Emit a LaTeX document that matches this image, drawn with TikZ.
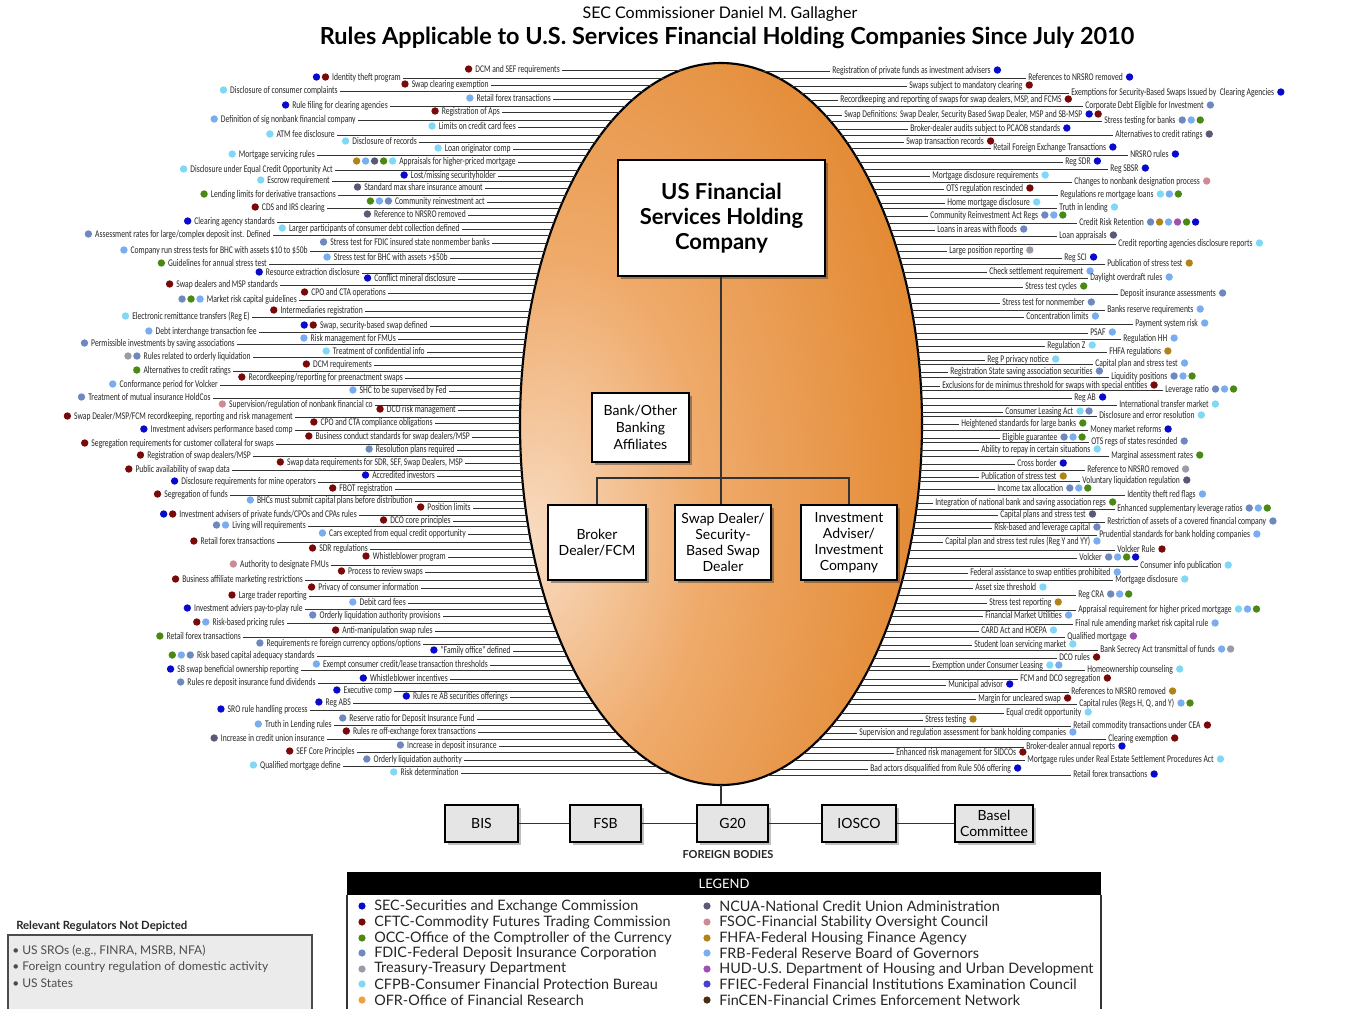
\documentclass[tikz,border=0pt]{standalone}
\usepackage{fontspec}
\setmainfont{Lato}
\newfontfamily\labf[FakeStretch=0.74]{Carlito}
\usetikzlibrary{shadows}
\definecolor{sec}{HTML}{0A0ACC}
\definecolor{cftc}{HTML}{7A0A0A}
\definecolor{occ}{HTML}{4A8A14}
\definecolor{fdic}{HTML}{7088C0}
\definecolor{treas}{HTML}{9C9CA8}
\definecolor{cfpb}{HTML}{7FD8F5}
\definecolor{ofr}{HTML}{F0A040}
\definecolor{ncua}{HTML}{5A5A78}
\definecolor{fsoc}{HTML}{D08A95}
\definecolor{fhfa}{HTML}{B08418}
\definecolor{frb}{HTML}{79ADEF}
\definecolor{hud}{HTML}{A050B0}
\definecolor{ffiec}{HTML}{4B3FD0}
\definecolor{fincen}{HTML}{4A2E10}
\definecolor{pale}{HTML}{F8DCC2}
\definecolor{midor}{HTML}{EFAA6A}
\definecolor{deepor}{HTML}{E2872F}
\pgfdeclareradialshading{eggshade}{\pgfpoint{-24bp}{-8bp}}{color(0bp)=(pale); color(18bp)=(midor); color(42bp)=(deepor); color(100bp)=(deepor)}
\newcommand\LL[5]{%
  \node[lab,anchor=base east] (#1) at (#3,#2+3.5) {#4};
  \pgfmathsetmacro\lbly{#2+1}
  \pgfmathsetmacro\lblx{721-201*sqrt(max(0,1-((\lbly-424)/361)^2))}
  \coordinate (#1e) at (\lblx,\lbly);
  \draw[leader] (#1.east |- #1e) -- (#1e);
  \foreach \c [count=\i] in {#5} {\fill[fill=\c] (#1.west |- #1e) ++({-9*\i+4.5},-1) circle[radius=3.7];}
}
\newcommand\RR[5]{%
  \node[lab,anchor=base west] (#1) at (#3,#2+3.5) {#4};
  \pgfmathsetmacro\lbly{#2+1}
  \pgfmathsetmacro\lblx{721+201*sqrt(max(0,1-((\lbly-424)/361)^2))}
  \coordinate (#1e) at (\lblx,\lbly);
  \draw[leader] (#1e) -- (#1.west |- #1e);
  \foreach \c [count=\i] in {#5} {\fill[fill=\c] (#1.east |- #1e) ++({9*\i-4.5},-1) circle[radius=3.7];}
}
\begin{document}
\begin{tikzpicture}[x=0.75pt,y=-0.75pt,
  lab/.style={font=\labf\fontsize{7.7pt}{8pt}\selectfont, text=black!85, inner sep=0pt, inner xsep=1.5pt},
  leader/.style={draw=black!80, line width=0.7pt},
  wbox/.style={draw=black, line width=1.2pt, fill=white, align=center, drop shadow={shadow xshift=2.5pt, shadow yshift=-2.5pt, fill=black!75}},
  fbox/.style={draw=black, line width=1pt, fill=black!10, align=center, font=\fontsize{10.5pt}{11pt}\selectfont, minimum height=27.75pt, inner sep=1pt, drop shadow={shadow xshift=2pt, shadow yshift=-2pt, fill=black!50}},
  conn/.style={draw=black!80, line width=1pt},
  legtxt/.style={font=\fontsize{10.8pt}{11pt}\selectfont, anchor=west, inner sep=0pt, text=black!85}
]
\path[use as bounding box, fill=white] (0,0) rectangle (1361,1008);

% titles
\node[font=\fontsize{12pt}{14pt}\selectfont] (t1) at (720,14) {SEC Commissioner Daniel M. Gallagher};
\node[font=\bfseries\fontsize{17.6pt}{20pt}\selectfont] (t2) at (727,38) {Rules Applicable to U.S. Services Financial Holding Companies Since July 2010};

% ellipse
\shade[shading=eggshade] (721,424) ellipse [x radius=201, y radius=361];
\draw[line width=1.6pt, black] (721,424) ellipse [x radius=201, y radius=361];
\coordinate (eb) at (721,785);

% left labels
\LL{l1}{69}{562}{DCM and SEF requirements}{cftc}
\LL{l2}{77}{403}{Identity theft program}{cftc,sec}
\LL{l3}{84}{491}{Swap clearing exemption}{cftc}
\LL{l4}{90}{340}{Disclosure of consumer complaints}{cfpb}
\LL{l5}{98}{553}{Retail forex transactions}{frb}
\LL{l6}{105}{390}{Rule filing for clearing agencies}{sec}
\LL{l7}{111}{502}{Registration of Aps}{cftc}
\LL{l8}{119}{358}{Definition of sig nonbank financial company}{frb}
\LL{l9}{126}{518}{Limits on credit card fees}{cfpb}
\LL{l10}{134}{337}{ATM fee disclosure}{cfpb}
\LL{l11}{141}{419}{Disclosure of records}{cfpb}
\LL{l12}{148}{513}{Loan originator comp}{cfpb}
\LL{l13}{154}{317}{Mortgage servicing rules}{cfpb}
\LL{l14}{161}{518}{Appraisals for higher-priced mortgage}{cfpb,occ,ncua,frb,fhfa}
\LL{l15}{169}{335}{Disclosure under Equal Credit Opportunity Act}{cfpb}
\LL{l16}{175}{498}{Lost/missing securityholder}{sec}
\LL{l17}{180}{332}{Escrow requirement}{cfpb}
\LL{l18}{187}{485}{Standard max share insurance amount}{ncua}
\LL{l19}{194}{338}{Lending limits for derivative transactions}{occ}
\LL{l20}{201}{487}{Community reinvestment act}{fdic,frb,occ}
\LL{l21}{207}{327}{CDS and IRS clearing}{cftc}
\LL{l22}{214}{468}{Reference to NRSRO removed}{ncua}
\LL{l23}{221}{277}{Clearing agency standards}{sec}
\LL{l24}{228}{462}{Larger participants of consumer debt collection defined}{cfpb}
\LL{l25}{234}{273}{Assessment rates for large/complex deposit inst. Defined}{fdic}
\LL{l26}{242}{492}{Stress test for FDIC insured state nonmember banks}{fdic}
\LL{l27}{250}{310}{Company run stress tests for BHC with assets \$10 to \$50b}{frb}
\LL{l28}{257}{450}{Stress test for BHC with assets >\$50b}{frb}
\LL{l29}{263}{269}{Guidelines for annual stress test}{occ}
\LL{l30}{272}{362}{Resource extraction disclosure}{sec}
\LL{l31}{278}{458}{Conflict mineral disclosure}{sec}
\LL{l32}{284}{280}{Swap dealers and MSP standards}{cftc}
\LL{l33}{292}{388}{CPO and CTA operations}{cftc}
\LL{l34}{299}{299}{Market risk capital guidelines}{frb,occ,fdic}
\LL{l35}{310}{365}{Intermediaries registration}{cftc}
\LL{l36}{316}{252}{Electronic remittance transfers (Reg E)}{cfpb}
\LL{l37}{325}{430}{Swap, security-based swap defined}{cftc,sec}
\LL{l38}{331}{259}{Debt interchange transaction fee}{frb}
\LL{l39}{338}{398}{Risk management for FMUs}{frb}
\LL{l40}{343}{237}{Permissible investments by saving associations}{fdic}
\LL{l41}{351}{427}{Treatment of confidential info}{cfpb}
\LL{l42}{356}{253}{Rules related to orderly liquidation}{fdic,treas}
\LL{l43}{364}{374}{DCM requirements}{cftc}
\LL{l44}{370}{233}{Alternatives to credit ratings}{occ}
\LL{l45}{377}{405}{Recordkeeping/reporting for preenactment swaps}{cftc}
\LL{l46}{384}{220}{Conformance period for Volcker}{frb}
\LL{l47}{390}{449}{SHC to be supervised by Fed}{frb}
\LL{l48}{397}{213}{Treatment of mutual insurance HoldCos}{fdic}
\LL{l49}{404}{375}{Supervision/regulation of nonbank financial co}{fsoc}
\LL{l50}{409}{458}{DCO risk management}{cftc}
\LL{l51}{416}{295}{Swap Dealer/MSP/FCM recordkeeping, reporting and risk management}{cftc}
\LL{l52}{422}{435}{CPO and CTA compliance obligations}{cftc}
\LL{l53}{429}{295}{Investment advisers performance based comp}{sec}
\LL{l54}{436}{472}{Business conduct standards for swap dealers/MSP}{cftc}
\LL{l55}{443}{276}{Segregation requirements for customer collateral for swaps}{cftc}
\LL{l56}{449}{457}{Resolution plans required}{fdic}
\LL{l57}{455}{253}{Registration of swap dealers/MSP}{cftc}
\LL{l58}{462}{465}{Swap data requirements for SDR, SEF, Swap Dealers, MSP}{cftc}
\LL{l59}{469}{232}{Public availability of swap data}{cftc}
\LL{l60}{475}{437}{Accredited investors}{sec}
\LL{l61}{481}{318}{Disclosure requirements for mine operators}{sec}
\LL{l62}{488}{395}{FBOT registration}{cftc}
\LL{l63}{494}{230}{Segregation of funds}{cftc}
\LL{l64}{500}{415}{BHCs must submit capital plans before distribution}{frb}
\LL{l65}{507}{473}{Position limits}{cftc}
\LL{l66}{514}{359}{Investment advisers of private funds/CPOs and CPAs rules}{cftc,sec}
\LL{l67}{520}{453}{DCO core principles}{cftc}
\LL{l68}{525}{308}{Living will requirements}{frb,fdic}
\LL{l69}{533}{468}{Cars excepted from equal credit opportunity}{frb}
\LL{l70}{541}{277}{Retail forex transactions}{cftc}
\LL{l71}{548}{370}{SDR regulations}{cftc}
\LL{l72}{556}{448}{Whistleblower program}{cftc}
\LL{l73}{564}{331}{Authority to designate FMUs}{fsoc}
\LL{l74}{571}{425}{Process to review swaps}{cftc}
\LL{l75}{579}{305}{Business affiliate marketing restrictions}{cftc}
\LL{l76}{587}{421}{Privacy of consumer information}{cftc}
\LL{l77}{595}{309}{Large trader reporting}{cftc}
\LL{l78}{602}{408}{Debit card fees}{frb}
\LL{l79}{608}{305}{Investment adviers pay-to-play rule}{sec}
\LL{l80}{615}{443}{Orderly liquidation authority provisions}{fdic}
\LL{l81}{622}{287}{Risk-based pricing rules}{frb,cftc}
\LL{l82}{630}{435}{Anti-manipulation swap rules}{cftc}
\LL{l83}{636}{243}{Retail forex transactions}{occ}
\LL{l84}{643}{423}{Requirements re foreign currency options/options}{fdic}
\LL{l85}{650}{513}{"Family office" defined}{sec}
\LL{l86}{655}{317}{Risk based capital adequacy standards}{fdic,frb,occ}
\LL{l87}{664}{490}{Exempt consumer credit/lease transaction thresholds}{frb}
\LL{l88}{669}{301}{SB swap beneficial ownership reporting}{sec}
\LL{l89}{678}{450}{Whistleblower incentives}{sec}
\LL{l90}{682}{318}{Rules re deposit insurance fund dividends}{fdic}
\LL{l91}{690}{394}{Executive comp}{sec}
\LL{l92}{696}{510}{Rules re AB securities offerings}{sec}
\LL{l93}{702}{353}{Reg ABS}{sec}
\LL{l94}{709}{310}{SRO rule handling process}{sec}
\LL{l95}{718}{477}{Reserve ratio for Deposit Insurance Fund}{fdic}
\LL{l96}{724}{334}{Truth in Lending rules}{frb}
\LL{l97}{731}{478}{Rules re off-exchange forex transactions}{cftc}
\LL{l98}{738}{327}{Increase in credit union insurance}{ncua}
\LL{l99}{745}{499}{Increase in deposit insurance}{fdic}
\LL{l100}{751}{357}{SEF Core Principles}{cftc}
\LL{l101}{759}{464}{Orderly liquidation authority}{fdic}
\LL{l102}{765}{343}{Qualified mortgage define}{cfpb}
\LL{l103}{772}{461}{Risk determination}{cfpb}

% right labels
\RR{r1}{70}{830}{Registration of private funds as investment advisers}{sec}
\RR{r2}{77}{1026}{References to NRSRO removed}{sec}
\RR{r3}{85}{907}{Swaps subject to mandatory clearing}{cftc}
\RR{r4}{92}{1069}{Exemptions for Security-Based Swaps Issued by \ Clearing Agencies}{sec}
\RR{r5}{99}{838}{Recordkeeping and reporting of swaps for swap dealers, MSP, and FCMS}{cftc}
\RR{r6}{105}{1083}{Corporate Debt Eligible for Investment}{fdic}
\RR{r7}{114}{842}{Swap Definitions: Swap Dealer, Security Based Swap Dealer, MSP and SB-MSP}{sec,cftc}
\RR{r8}{120}{1102}{Stress testing for banks}{fdic,frb,occ}
\RR{r9}{128}{908}{Broker-dealer audits subject to PCAOB standards}{sec}
\RR{r10}{134}{1113}{Alternatives to credit ratings}{ncua}
\RR{r11}{141}{904}{Swap transaction records}{cftc}
\RR{r12}{147}{991}{Retail Foreign Exchange Transactions}{sec}
\RR{r13}{154}{1128}{NRSRO rules}{sec}
\RR{r14}{161}{1063}{Reg SDR}{sec}
\RR{r15}{168}{1108}{Reg SBSR}{sec}
\RR{r16}{175}{930}{Mortgage disclosure requirements}{cfpb}
\RR{r17}{181}{1072}{Changes to nonbank designation process}{fsoc}
\RR{r18}{188}{944}{OTS regulation rescinded}{cftc}
\RR{r19}{194}{1058}{Regulations re mortgage loans}{cfpb,frb,occ}
\RR{r20}{202}{945}{Home mortgage disclosure}{cfpb}
\RR{r21}{207}{1057}{Truth in lending}{cfpb}
\RR{r22}{215}{928}{Community Reinvestment Act Regs}{fdic,frb,occ}
\RR{r23}{222}{1077}{Credit Risk Retention}{fdic,fhfa,frb,hud,occ,sec}
\RR{r24}{229}{935}{Loans in areas with floods}{fdic}
\RR{r25}{235}{1057}{Loan appraisals}{ncua}
\RR{r26}{243}{1116}{Credit reporting agencies disclosure reports}{cfpb}
\RR{r27}{250}{947}{Large position reporting}{treas}
\RR{r28}{257}{1062}{Reg SCI}{sec}
\RR{r29}{263}{1105}{Publication of stress test}{fhfa}
\RR{r30}{271}{987}{Check settlement requirement}{frb}
\RR{r31}{277}{1088}{Daylight overdraft rules}{frb}
\RR{r32}{286}{1023}{Stress test cycles}{occ}
\RR{r33}{293}{1118}{Deposit insurance assessments}{fdic}
\RR{r34}{302}{1000}{Stress test for nonmember}{fdic}
\RR{r35}{309}{1105}{Banks reserve requirements}{frb}
\RR{r36}{316}{1024}{Concentration limits}{frb}
\RR{r37}{323}{1133}{Payment system risk}{frb}
\RR{r38}{332}{1088}{PSAF}{frb}
\RR{r39}{338}{1121}{Regulation HH}{frb}
\RR{r40}{345}{1045}{Regulation Z}{cfpb}
\RR{r41}{351}{1107}{FHFA regulations}{fhfa}
\RR{r42}{359}{985}{Reg P privacy notice}{cfpb}
\RR{r43}{363}{1093}{Capital plan and stress test}{frb}
\RR{r44}{371}{948}{Registration State saving association securities}{fdic}
\RR{r45}{376}{1109}{Liquidity positions}{fdic,frb,occ}
\RR{r46}{385}{940}{Exclusions for de minimus threshold for swaps with special entities}{cftc}
\RR{r47}{389}{1163}{Leverage ratio}{fdic,frb,occ}
\RR{r48}{397}{1072}{Reg AB}{sec}
\RR{r49}{404}{1117}{International transfer market}{cfpb}
\RR{r50}{411}{1003}{Consumer Leasing Act}{cfpb,fdic}
\RR{r51}{415}{1097}{Disclosure and error resolution}{cfpb}
\RR{r52}{423}{959}{Heightened standards for large banks}{occ}
\RR{r53}{429}{1088}{Money market reforms}{sec}
\RR{r54}{437}{1000}{Eligible guarantee}{fdic,frb,occ}
\RR{r55}{441}{1089}{OTS regs of states rescinded}{fdic}
\RR{r56}{449}{979}{Ability to repay in certain situations}{cfpb}
\RR{r57}{455}{1109}{Marginal assessment rates}{occ}
\RR{r58}{463}{1015}{Cross border}{sec}
\RR{r59}{469}{1085}{Reference to NRSRO removed}{treas}
\RR{r60}{476}{979}{Publication of stress test}{fhfa}
\RR{r61}{480}{1080}{Voluntary liquidation regulation}{ncua}
\RR{r62}{488}{995}{Income tax allocation}{fdic,frb,occ}
\RR{r63}{494}{1125}{Identity theft red flags}{frb}
\RR{r64}{502}{933}{Integration of national bank and saving association regs}{occ}
\RR{r65}{508}{1115}{Enhanced supplementary leverage ratios}{fdic,frb,occ}
\RR{r66}{514}{998}{Capital plans and stress test}{ncua}
\RR{r67}{521}{1105}{Restriction of assets of a covered financial company}{fdic}
\RR{r68}{527}{992}{Risk-based and leverage capital}{fdic}
\RR{r69}{534}{1097}{Prudential standards for bank holding companies}{frb}
\RR{r70}{541}{943}{Capital plan and stress test rules (Reg Y and YY)}{frb}
\RR{r71}{549}{1115}{Volcker Rule}{cftc}
\RR{r72}{557}{1077}{Volcker}{fdic,frb,occ,sec}
\RR{r73}{565}{1138}{Consumer info publication}{cfpb}
\RR{r74}{572}{968}{Federal assistance to swap entities prohibited}{frb}
\RR{r75}{579}{1113}{Mortgage disclosure}{cfpb}
\RR{r76}{587}{973}{Asset size threshold}{cfpb}
\RR{r77}{594}{1076}{Reg CRA}{fdic,frb,occ}
\RR{r78}{602}{987}{Stress test reporting}{fhfa}
\RR{r79}{609}{1076}{Appraisal requirement for higher priced mortgage}{cfpb,frb,occ}
\RR{r80}{615}{983}{Financial Market Utilities}{frb}
\RR{r81}{623}{1073}{Final rule amending market risk capital rule}{frb}
\RR{r82}{630}{979}{CARD Act and HOEPA}{cfpb}
\RR{r83}{636}{1065}{Qualified mortgage}{hud}
\RR{r84}{644}{972}{Student loan servicing market}{cfpb}
\RR{r85}{649}{1098}{Bank Secrecy Act transmittal of funds}{frb,treas}
\RR{r86}{657}{1057}{DCO rules}{cftc}
\RR{r87}{665}{930}{Exemption under Consumer Leasing}{cfpb,frb}
\RR{r88}{669}{1085}{Homeownership counseling}{cfpb}
\RR{r89}{678}{1018}{FCM and DCO segregation}{cftc}
\RR{r90}{684}{946}{Municipal advisor}{sec}
\RR{r91}{691}{1069}{References to NRSRO removed}{fhfa}
\RR{r92}{698}{976}{Margin for uncleared swap}{cftc}
\RR{r93}{703}{1077}{Capital rules (Regs H, Q, and Y)}{frb,occ}
\RR{r94}{712}{1004}{Equal credit opportunity}{cfpb}
\RR{r95}{719}{923}{Stress testing}{fhfa}
\RR{r96}{725}{1071}{Retail commodity transactions under CEA}{cftc}
\RR{r97}{732}{857}{Supervision and regulation assessment for bank holding companies}{frb}
\RR{r98}{738}{1106}{Clearing exemption}{cftc}
\RR{r99}{746}{1024}{Broker-dealer annual reports}{sec}
\RR{r100}{752}{894}{Enhanced risk management for SIDCOs}{cftc}
\RR{r101}{759}{1025}{Mortgage rules under Real Estate Settlement Procedures Act}{cfpb}
\RR{r102}{768}{868}{Bad actors disqualified from Rule 506 offering}{sec}
\RR{r103}{774}{1071}{Retail forex transactions}{sec}

% org chart
\node[wbox, line width=1.5pt, minimum width=155.25pt, minimum height=87pt, font=\bfseries\fontsize{16.5pt}{19pt}\selectfont] (main) at (721.5,218) {US Financial\\Services Holding\\Company};
\node[wbox, minimum width=72.75pt, minimum height=51.75pt, font=\fontsize{10.5pt}{12.75pt}\selectfont] (bank) at (640.5,427.5) {Bank/Other\\Banking\\Affiliates};
\node[wbox, minimum width=73.5pt, minimum height=56.25pt, font=\fontsize{10.5pt}{12pt}\selectfont] (bd) at (597,542.5) {Broker\\Dealer/FCM};
\node[wbox, minimum width=72pt, minimum height=56.25pt, font=\fontsize{10.5pt}{12pt}\selectfont] (sd) at (723,542.5) {Swap Dealer/\\Security-\\Based Swap\\Dealer};
\node[wbox, minimum width=72pt, minimum height=56.25pt, font=\fontsize{10.5pt}{12pt}\selectfont] (ia) at (849,542.5) {Investment\\Adviser/\\Investment\\Company};
\coordinate (jn) at (721,478);
\draw[conn] (main.south -| jn) -- (jn);
\draw[conn] (bd.north) |- (jn) -| (ia.north);
\draw[conn] (jn) -- (jn |- sd.north);

% foreign bodies
\node[fbox, minimum width=54.75pt] (bis) at (481.5,823.5) {BIS};
\node[fbox, minimum width=53.25pt] (fsb) at (605.5,823.5) {FSB};
\node[fbox, minimum width=53.25pt] (g20) at (732.5,823.5) {G20};
\node[fbox, minimum width=55.5pt] (iosco) at (859,823.5) {IOSCO};
\node[fbox, minimum width=58.5pt, font=\fontsize{10.5pt}{11.5pt}\selectfont] (basel) at (994,823.5) {Basel\\Committee};
\draw[conn] (bis) -- (fsb);
\draw[conn] (fsb) -- (g20);
\draw[conn] (g20) -- (iosco);
\draw[conn] (iosco) -- (basel);
\draw[conn] (eb) -- (eb |- g20.north);
\node[font=\bfseries\fontsize{8.25pt}{9pt}\selectfont, text=black!85] (fb) at (728,855) {FOREIGN BODIES};

% legend
\node[fill=black, text=white, minimum width=565.5pt, minimum height=17.25pt, inner sep=0pt, font=\fontsize{9.75pt}{10pt}\selectfont] (leg) at (724,883.5) {LEGEND};
\draw[black!80, line width=1pt] (347,895) -- (347,1012) (1101,895) -- (1101,1012);
\foreach \col/\txt/\yy [count=\k] in {
  sec/SEC-Securities and Exchange Commission/906,
  cftc/CFTC-Commodity Futures Trading Commission/922,
  occ/OCC-Office of the Comptroller of the Currency/938,
  fdic/FDIC-Federal Deposit Insurance Corporation/953,
  treas/Treasury-Treasury Department/969,
  cfpb/CFPB-Consumer Financial Protection Bureau/984,
  ofr/OFR-Office of Financial Research/1000}{
  \fill[fill=\col] (362,\yy) circle[radius=3.6];
  \node[legtxt] (lg\k) at (374,\yy) {\txt};
}
\foreach \col/\txt/\yy [count=\k] in {
  ncua/NCUA-National Credit Union Administration/906,
  fsoc/FSOC-Financial Stability Oversight Council/922,
  fhfa/FHFA-Federal Housing Finance Agency/938,
  frb/FRB-Federal Reserve Board of Governors/953,
  hud/HUD-U.S. Department of Housing and Urban Development/969,
  ffiec/FFIEC-Federal Financial Institutions Examination Council/984,
  fincen/FinCEN-Financial Crimes Enforcement Network/1000}{
  \fill[fill=\col] (707,\yy) circle[radius=3.6];
  \node[legtxt] (rg\k) at (719,\yy) {\txt};
}

% not depicted
\node[font=\bfseries\fontsize{8.5pt}{9pt}\selectfont, anchor=west, inner sep=0pt, text=black!85] (nd) at (16,926) {Relevant Regulators Not Depicted};
\draw[draw=black!70, line width=1.5pt, fill=black!8] (8,935) rectangle (312,1012);
\node[font=\fontsize{9pt}{12pt}\selectfont, anchor=west, inner sep=0pt, text=black!70] (nd1) at (12,951) {\textbullet\ US SROs (e.g., FINRA, MSRB, NFA)};
\node[font=\fontsize{9pt}{12pt}\selectfont, anchor=west, inner sep=0pt, text=black!70] (nd2) at (12,967) {\textbullet\ Foreign country regulation of domestic activity};
\node[font=\fontsize{9pt}{12pt}\selectfont, anchor=west, inner sep=0pt, text=black!70] (nd3) at (12,983) {\textbullet\ US States};
\end{tikzpicture}
\end{document}
